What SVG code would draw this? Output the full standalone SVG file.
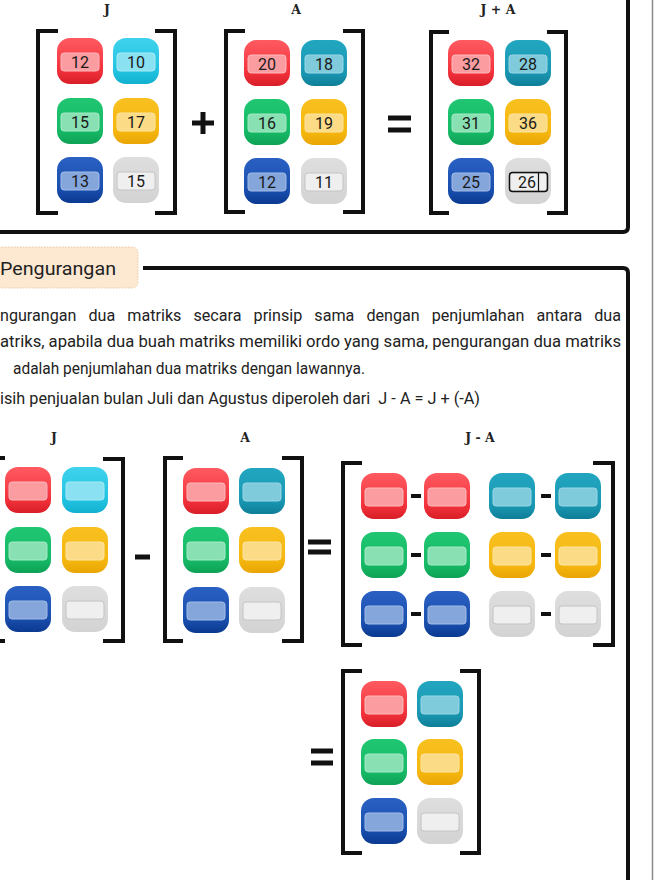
<svg xmlns="http://www.w3.org/2000/svg" xmlns:xlink="http://www.w3.org/1999/xlink" width="670" height="880" viewBox="0 0 670 880">
<style>
.br{fill:none;stroke:#111;stroke-width:4;stroke-linejoin:miter}
.op{fill:none;stroke:#111;stroke-width:5}
.opt{fill:none;stroke:#111;stroke-width:4}
.num{font-family:Roboto,"Liberation Sans",sans-serif;font-size:16px;fill:#1a1a1a;text-anchor:middle}
.lbl{font-family:"DejaVu Serif","Liberation Serif",serif;font-size:12.5px;font-weight:bold;fill:#222;text-anchor:middle}
.para{font-family:Roboto,"Liberation Sans",sans-serif;font-size:16px;fill:#222;white-space:pre}
.frame{fill:none;stroke:#111;stroke-width:4}
</style>
<defs>
<linearGradient id="gR" x1="0" y1="0" x2="0" y2="1"><stop offset="0" stop-color="#ff5a61"/><stop offset="0.7" stop-color="#f2323b"/><stop offset="1" stop-color="#d81e28"/></linearGradient>
<linearGradient id="gC" x1="0" y1="0" x2="0" y2="1"><stop offset="0" stop-color="#3fd2ec"/><stop offset="0.7" stop-color="#22c4e2"/><stop offset="1" stop-color="#12b0d0"/></linearGradient>
<linearGradient id="gT" x1="0" y1="0" x2="0" y2="1"><stop offset="0" stop-color="#22a6c0"/><stop offset="0.7" stop-color="#1a98b3"/><stop offset="1" stop-color="#0f7e98"/></linearGradient>
<linearGradient id="gG" x1="0" y1="0" x2="0" y2="1"><stop offset="0" stop-color="#20c672"/><stop offset="0.7" stop-color="#16ba67"/><stop offset="1" stop-color="#0ea155"/></linearGradient>
<linearGradient id="gY" x1="0" y1="0" x2="0" y2="1"><stop offset="0" stop-color="#f8c020"/><stop offset="0.7" stop-color="#f5b80f"/><stop offset="1" stop-color="#e9a505"/></linearGradient>
<linearGradient id="gB" x1="0" y1="0" x2="0" y2="1"><stop offset="0" stop-color="#2a60c2"/><stop offset="0.7" stop-color="#1a4fae"/><stop offset="1" stop-color="#0a3990"/></linearGradient>
<linearGradient id="gW" x1="0" y1="0" x2="0" y2="1"><stop offset="0" stop-color="#dedede"/><stop offset="1" stop-color="#d3d3d3"/></linearGradient>
<g id="cR"><rect width="46" height="46" rx="13" fill="url(#gR)"/><rect x="4" y="15" width="38" height="18" rx="3" fill="#fb9ca1" stroke="#fdb8bb" stroke-width="1"/></g>
<g id="cC"><rect width="46" height="46" rx="13" fill="url(#gC)"/><rect x="4" y="15" width="38" height="18" rx="3" fill="#8ae1f1" stroke="#a8eaf5" stroke-width="1"/></g>
<g id="cT"><rect width="46" height="46" rx="13" fill="url(#gT)"/><rect x="4" y="15" width="38" height="18" rx="3" fill="#7fcbdb" stroke="#9ad6e3" stroke-width="1"/></g>
<g id="cG"><rect width="46" height="46" rx="13" fill="url(#gG)"/><rect x="4" y="15" width="38" height="18" rx="3" fill="#89e1b3" stroke="#a5e9c5" stroke-width="1"/></g>
<g id="cY"><rect width="46" height="46" rx="13" fill="url(#gY)"/><rect x="4" y="15" width="38" height="18" rx="3" fill="#fbdb85" stroke="#fce4a3" stroke-width="1"/></g>
<g id="cB"><rect width="46" height="46" rx="13" fill="url(#gB)"/><rect x="4" y="15" width="38" height="18" rx="3" fill="#85a6db" stroke="#a2bce6" stroke-width="1"/></g>
<g id="cW"><rect width="46" height="46" rx="13" fill="url(#gW)"/><rect x="4" y="15" width="38" height="18" rx="3" fill="#efefef" stroke="#c4c4c4" stroke-width="1"/></g>
</defs>
<rect width="670" height="880" fill="#ffffff"/>

<g id="frames">
<path class="frame" d="M0,232 H623 Q628,232 628,227 V-2"/>
<path class="frame" d="M143,268 H623 Q628,268 628,273 V882"/>
<line x1="652.5" y1="0" x2="652.5" y2="880" stroke="#8a8a8a" stroke-width="1.5"/>
</g>

<g id="matJ-top">
<text class="lbl" x="107" y="14">J</text>
<path class="br" d="M58,31 H38 V213 H58"/>
<path class="br" d="M155,31 H175 V213 H155"/>
<use href="#cR" x="57" y="38"/><use href="#cC" x="113" y="38"/>
<use href="#cG" x="57" y="98"/><use href="#cY" x="113" y="98"/>
<use href="#cB" x="57" y="157"/><use href="#cW" x="113" y="157"/>
<text class="num" x="80" y="68">12</text><text class="num" x="136" y="68">10</text>
<text class="num" x="80" y="128">15</text><text class="num" x="136" y="128">17</text>
<text class="num" x="80" y="187">13</text><text class="num" x="136" y="187">15</text>
</g>

<g id="op-plus">
<path class="op" d="M192,123 H214 M203,112 V134"/>
</g>

<g id="matA-top">
<text class="lbl" x="296" y="14">A</text>
<path class="br" d="M245,31 H226 V212 H245"/>
<path class="br" d="M343,31 H363 V212 H343"/>
<use href="#cR" x="244" y="40"/><use href="#cT" x="301" y="40"/>
<use href="#cG" x="244" y="99"/><use href="#cY" x="301" y="99"/>
<use href="#cB" x="244" y="158"/><use href="#cW" x="301" y="158"/>
<text class="num" x="267" y="70">20</text><text class="num" x="324" y="70">18</text>
<text class="num" x="267" y="129">16</text><text class="num" x="324" y="129">19</text>
<text class="num" x="267" y="188">12</text><text class="num" x="324" y="188">11</text>
</g>

<g id="op-eq-top">
<path class="op" d="M388,118 H411 M388,130 H411"/>
</g>

<g id="matJA-top">
<text class="lbl" x="498" y="14">J + A</text>
<path class="br" d="M449,32 H431 V213 H449"/>
<path class="br" d="M547,32 H566 V213 H547"/>
<use href="#cR" x="448" y="40"/><use href="#cT" x="505" y="40"/>
<use href="#cG" x="448" y="99"/><use href="#cY" x="505" y="99"/>
<use href="#cB" x="448" y="158"/><use href="#cW" x="505" y="158"/>
<rect x="509.5" y="172.5" width="38" height="19" rx="3" fill="none" stroke="#111" stroke-width="1.5"/>
<line x1="538.5" y1="173" x2="538.5" y2="191" stroke="#111" stroke-width="1.2"/>
<text class="num" x="471" y="70">32</text><text class="num" x="528" y="70">28</text>
<text class="num" x="471" y="129">31</text><text class="num" x="528" y="129">36</text>
<text class="num" x="471" y="188">25</text><text class="num" x="527" y="188">26</text>
</g>

<g id="header">
<rect x="-10" y="247" width="148" height="41" rx="6" fill="#fde8d2" stroke="#e9c8a5" stroke-width="1" stroke-dasharray="1.5 1.5"/>
<text x="0" y="275" textLength="116" lengthAdjust="spacingAndGlyphs" style="font-family:Roboto,'Liberation Sans',sans-serif;font-size:19px;fill:#222">Pengurangan</text>
</g>

<g id="paragraph">
<text class="para" x="0" y="321" textLength="621" lengthAdjust="spacingAndGlyphs" style="word-spacing:8px">ngurangan dua matriks secara prinsip sama dengan penjumlahan antara dua</text>
<text class="para" x="0" y="347" textLength="621" lengthAdjust="spacingAndGlyphs">atriks, apabila dua buah matriks memiliki ordo yang sama, pengurangan dua matriks</text>
<text class="para" x="13" y="374" textLength="352" lengthAdjust="spacingAndGlyphs">adalah penjumlahan dua matriks dengan lawannya.</text>
<text class="para" x="0" y="404" textLength="480" lengthAdjust="spacingAndGlyphs">isih penjualan bulan Juli dan Agustus diperoleh dari  J - A = J + (-A)</text>
</g>

<g id="matJ-bottom">
<text class="lbl" x="54" y="442">J</text>
<path class="br" d="M5,458 H-3 V641 H5"/>
<path class="br" d="M103,459 H123 V641 H103"/>
<use href="#cR" x="5" y="467"/><use href="#cC" x="62" y="467"/>
<use href="#cG" x="5" y="527"/><use href="#cY" x="62" y="527"/>
<use href="#cB" x="5" y="586"/><use href="#cW" x="62" y="586"/>
</g>

<g id="op-minus">
<path class="op" d="M135,557 H150"/>
</g>

<g id="matA-bottom">
<text class="lbl" x="245" y="442">A</text>
<path class="br" d="M183,458 H165 V641 H183"/>
<path class="br" d="M282,458 H302 V641 H282"/>
<use href="#cR" x="183" y="468"/><use href="#cT" x="239" y="468"/>
<use href="#cG" x="183" y="527"/><use href="#cY" x="239" y="527"/>
<use href="#cB" x="183" y="587"/><use href="#cW" x="239" y="587"/>
</g>

<g id="op-eq-mid">
<path class="op" d="M308,542 H331 M308,552 H331"/>
</g>

<g id="matJminA">
<text class="lbl" x="480" y="442">J - A</text>
<path class="br" d="M362,463 H343 V645 H362"/>
<path class="br" d="M593,463 H613 V645 H593"/>
<use href="#cR" x="361" y="473"/><use href="#cR" x="424" y="473"/><use href="#cT" x="489" y="473"/><use href="#cT" x="555" y="473"/>
<use href="#cG" x="361" y="532"/><use href="#cG" x="424" y="532"/><use href="#cY" x="489" y="532"/><use href="#cY" x="555" y="532"/>
<use href="#cB" x="361" y="591"/><use href="#cB" x="424" y="591"/><use href="#cW" x="489" y="591"/><use href="#cW" x="555" y="591"/>
<path class="opt" d="M411,496 H421 M541,496 H551 M411,555 H421 M541,555 H551 M411,614 H421 M541,614 H551"/>
</g>

<g id="op-eq-bottom">
<path class="op" d="M311,751 H333 M311,763 H333"/>
</g>

<g id="matResult">
<path class="br" d="M362,671 H343 V853 H362"/>
<path class="br" d="M460,671 H479 V853 H460"/>
<use href="#cR" x="361" y="681"/><use href="#cT" x="417" y="681"/>
<use href="#cG" x="361" y="739"/><use href="#cY" x="417" y="739"/>
<use href="#cB" x="361" y="798"/><use href="#cW" x="417" y="798"/>
</g>
</svg>
